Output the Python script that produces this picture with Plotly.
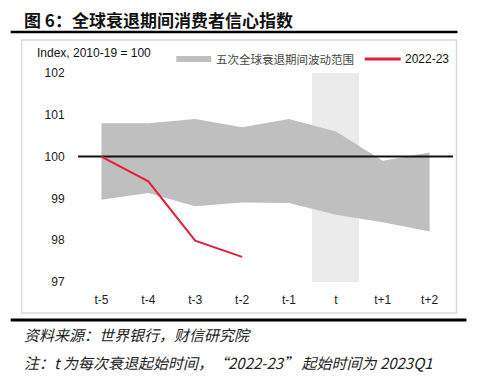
import plotly.graph_objects as go

categories = ["t-5", "t-4", "t-3", "t-2", "t-1", "t", "t+1", "t+2"]
band_upper = [100.8, 100.8, 100.9, 100.7, 100.9, 100.6, 99.9, 100.1]
band_lower = [98.97, 99.13, 98.81, 98.9, 98.89, 98.61, 98.43, 98.21]
series_2022 = [100.0, 99.41, 97.99, 97.6]
y_ticks = [97, 98, 99, 100, 101, 102]
recession_start = "t"

OFF = 8  # page body margin
W, H = 500 - 2 * OFF, 385 - 2 * OFF
# plot area in screen pixels
L_s, R_s, T_s, B_s = 77.5, 453.5, 73, 282
ML, MT = L_s - OFF, T_s - OFF
MR, MB = W - (R_s - OFF), H - (B_s - OFF)
PW, PH = R_s - L_s, B_s - T_s

def px(x):
    return (x - L_s) / PW

def py(y):
    return (B_s - y) / PH

xs = list(range(len(categories)))
x_start = xs[categories.index(recession_start)]

fig = go.Figure()
fig.add_trace(go.Bar(x=[x_start], y=[y_ticks[-1] - y_ticks[0]], base=[y_ticks[0]], width=1,
                     marker=dict(color="#EBEBEB", line=dict(width=0)), showlegend=False, hoverinfo="skip"))
fig.add_trace(go.Scatter(x=xs, y=band_lower, mode="lines", line=dict(width=0, color="#BFBFBF"),
                         showlegend=False, hoverinfo="skip"))
fig.add_trace(go.Scatter(x=xs, y=band_upper, mode="lines", line=dict(width=0, color="#BFBFBF"),
                         fill="tonexty", fillcolor="#BFBFBF", name="五次全球衰退期间波动范围", showlegend=False))
fig.add_trace(go.Scatter(x=[-0.5, len(categories) - 0.5], y=[100, 100], mode="lines",
                         line=dict(color="#111111", width=2), showlegend=False, hoverinfo="skip"))
fig.add_trace(go.Scatter(x=xs[:len(series_2022)], y=series_2022, mode="lines",
                         line=dict(color="#E0203A", width=2), name="2022-23", showlegend=False))

shapes = [
    dict(type="rect", xref="paper", yref="paper", x0=px(21), x1=px(457), y0=py(313), y1=py(40),
         line=dict(color="#D9D9D9", width=1.5), layer="below"),
    dict(type="line", xref="paper", yref="paper", x0=px(10), x1=px(458), y0=py(32), y1=py(32),
         line=dict(color="#000000", width=2.5)),
    dict(type="line", xref="paper", yref="paper", x0=px(10), x1=px(467), y0=py(320), y1=py(320),
         line=dict(color="#000000", width=3)),
    dict(type="rect", xref="paper", yref="paper", x0=px(176), x1=px(211), y0=py(62), y1=py(56),
         fillcolor="#BFBFBF", line=dict(width=0)),
    dict(type="line", xref="paper", yref="paper", x0=px(365), x1=px(401), y0=py(59), y1=py(59),
         line=dict(color="#E0203A", width=3)),
]

cjk = "Noto Sans CJK SC"
ann = [
    dict(text="<b>图 6：全球衰退期间消费者信心指数</b>", x=px(21), y=py(19.5), xanchor="left", yanchor="middle",
         font=dict(family=cjk, size=17, color="#111111")),
    dict(text="Index, 2010-19 = 100", x=px(34), y=py(53), xanchor="left", yanchor="middle",
         font=dict(family="Liberation Sans, Arial", size=12, color="#111111")),
    dict(text="五次全球衰退期间波动范围", x=px(214), y=py(59), xanchor="left", yanchor="middle",
         font=dict(family=cjk, size=11.5, color="#444444")),
    dict(text="2022-23", x=px(403), y=py(59), xanchor="left", yanchor="middle",
         font=dict(family="Liberation Sans, Arial", size=12, color="#111111")),
    dict(text="<i>资料来源：世界银行，财信研究院</i>", x=px(21), y=py(334), xanchor="left", yanchor="middle",
         font=dict(family=cjk, size=15, color="#222222")),
    dict(text="<i>注：t 为每次衰退起始时间，“2022-23” 起始时间为 2023Q1</i>", x=px(21), y=py(362),
         xanchor="left", yanchor="middle", font=dict(family=cjk, size=15, color="#222222")),
]
for a in ann:
    a.update(xref="paper", yref="paper", showarrow=False)

fig.update_layout(
    width=W, height=H, margin=dict(l=ML, r=MR, t=MT, b=MB, pad=0),
    paper_bgcolor="white", plot_bgcolor="white", bargap=0,
    shapes=shapes, annotations=ann, showlegend=False,
    xaxis=dict(range=[-0.5, len(categories) - 0.5], tickvals=xs, ticktext=categories,
               showgrid=False, zeroline=False, showline=False, ticks="outside", ticklen=7,
               tickcolor="rgba(0,0,0,0)",
               tickfont=dict(family="Liberation Sans, Arial", size=12, color="#222222")),
    yaxis=dict(range=[y_ticks[0], y_ticks[-1]], tickvals=y_ticks, showgrid=False, zeroline=False,
               showline=False, ticks="outside", ticklen=10, tickcolor="rgba(0,0,0,0)",
               tickfont=dict(family="Liberation Sans, Arial", size=12, color="#222222")),
)
fig.write_html("out.html")
